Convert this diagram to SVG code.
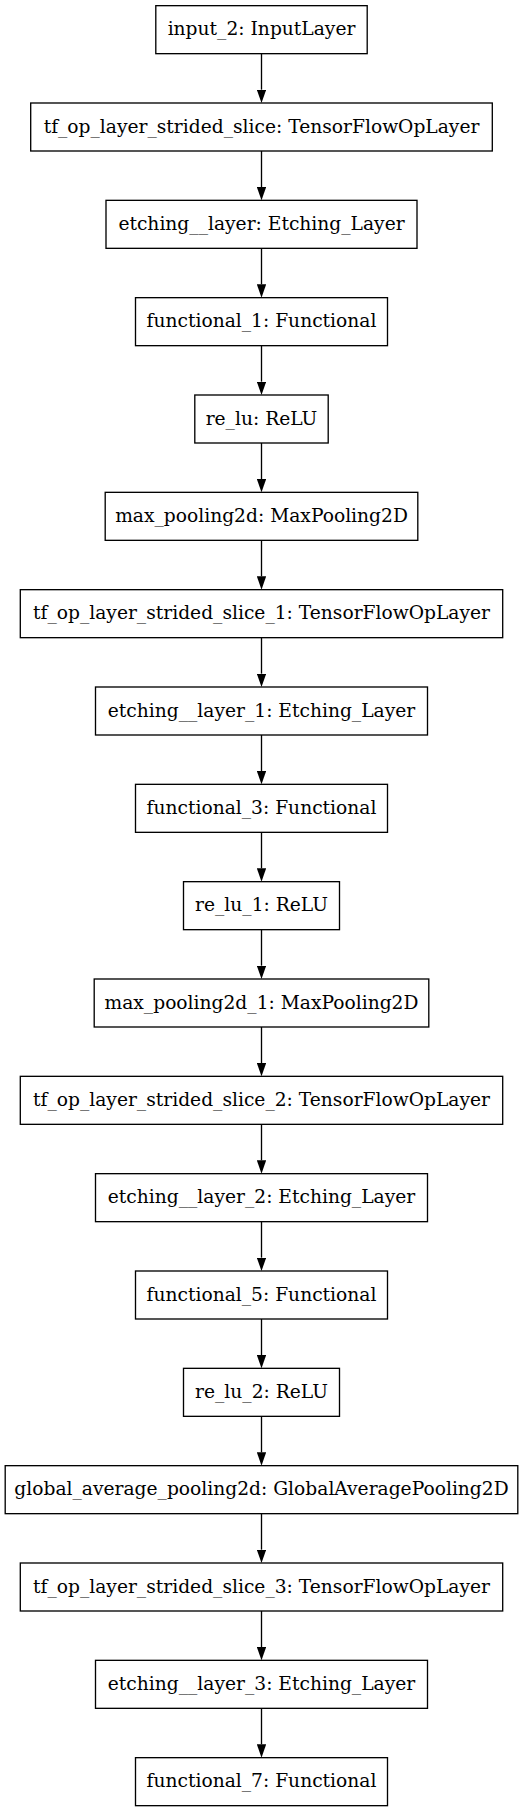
<svg xmlns="http://www.w3.org/2000/svg" width="529" height="1812" viewBox="0 0 529 1812">
<style>
.n rect{fill:#fff;stroke:#000;stroke-width:1.33}
.n text{font-family:"DejaVu Serif",serif;font-size:18.67px;text-anchor:middle;fill:#000}
.e line{stroke:#000;stroke-width:1.33}
</style>
<defs>
<marker id="ah" markerUnits="userSpaceOnUse" viewBox="0 0 13.33 9.33" refX="0" refY="4.67" markerWidth="13.33" markerHeight="9.33" orient="auto">
<path d="M0,0 L13.33,4.67 L0,9.33 z" fill="#000"/>
</marker>
</defs>
<rect width="529" height="1812" fill="#fff"/>
<g id="connectors" class="e">
<line x1="261.5" y1="53.67" x2="261.5" y2="89.67" marker-end="url(#ah)"/>
<line x1="261.5" y1="151" x2="261.5" y2="187" marker-end="url(#ah)"/>
<line x1="261.5" y1="248.33" x2="261.5" y2="284.33" marker-end="url(#ah)"/>
<line x1="261.5" y1="345.67" x2="261.5" y2="381.67" marker-end="url(#ah)"/>
<line x1="261.5" y1="443" x2="261.5" y2="479" marker-end="url(#ah)"/>
<line x1="261.5" y1="540.33" x2="261.5" y2="576.33" marker-end="url(#ah)"/>
<line x1="261.5" y1="637.67" x2="261.5" y2="673.67" marker-end="url(#ah)"/>
<line x1="261.5" y1="735" x2="261.5" y2="771" marker-end="url(#ah)"/>
<line x1="261.5" y1="832.33" x2="261.5" y2="868.33" marker-end="url(#ah)"/>
<line x1="261.5" y1="929.67" x2="261.5" y2="965.67" marker-end="url(#ah)"/>
<line x1="261.5" y1="1027" x2="261.5" y2="1063" marker-end="url(#ah)"/>
<line x1="261.5" y1="1124.33" x2="261.5" y2="1160.33" marker-end="url(#ah)"/>
<line x1="261.5" y1="1221.67" x2="261.5" y2="1257.67" marker-end="url(#ah)"/>
<line x1="261.5" y1="1319" x2="261.5" y2="1355" marker-end="url(#ah)"/>
<line x1="261.5" y1="1416.33" x2="261.5" y2="1452.33" marker-end="url(#ah)"/>
<line x1="261.5" y1="1513.67" x2="261.5" y2="1549.67" marker-end="url(#ah)"/>
<line x1="261.5" y1="1611" x2="261.5" y2="1647" marker-end="url(#ah)"/>
<line x1="261.5" y1="1708.33" x2="261.5" y2="1744.33" marker-end="url(#ah)"/>
</g>
<g id="input_2" class="n"><rect x="155.8" y="5.67" width="211.4" height="48"/><text x="261.5" y="35.27">input_2: InputLayer</text></g>
<g id="tf_op_layer_strided_slice" class="n"><rect x="30.7" y="103" width="461.6" height="48"/><text x="261.5" y="132.6">tf_op_layer_strided_slice: TensorFlowOpLayer</text></g>
<g id="etching__layer" class="n"><rect x="106" y="200.33" width="311" height="48"/><text x="261.5" y="229.93">etching__layer: Etching_Layer</text></g>
<g id="functional_1" class="n"><rect x="135.5" y="297.67" width="252" height="48"/><text x="261.5" y="327.27">functional_1: Functional</text></g>
<g id="re_lu" class="n"><rect x="194.8" y="395" width="133.4" height="48"/><text x="261.5" y="424.6">re_lu: ReLU</text></g>
<g id="max_pooling2d" class="n"><rect x="105.2" y="492.33" width="312.6" height="48"/><text x="261.5" y="521.93">max_pooling2d: MaxPooling2D</text></g>
<g id="tf_op_layer_strided_slice_1" class="n"><rect x="20.3" y="589.67" width="482.4" height="48"/><text x="261.5" y="619.27">tf_op_layer_strided_slice_1: TensorFlowOpLayer</text></g>
<g id="etching__layer_1" class="n"><rect x="95.5" y="687" width="332" height="48"/><text x="261.5" y="716.6">etching__layer_1: Etching_Layer</text></g>
<g id="functional_3" class="n"><rect x="135.5" y="784.33" width="252" height="48"/><text x="261.5" y="813.93">functional_3: Functional</text></g>
<g id="re_lu_1" class="n"><rect x="183.5" y="881.67" width="156" height="48"/><text x="261.5" y="911.27">re_lu_1: ReLU</text></g>
<g id="max_pooling2d_1" class="n"><rect x="94.2" y="979" width="334.6" height="48"/><text x="261.5" y="1008.6">max_pooling2d_1: MaxPooling2D</text></g>
<g id="tf_op_layer_strided_slice_2" class="n"><rect x="20.3" y="1076.33" width="482.4" height="48"/><text x="261.5" y="1105.93">tf_op_layer_strided_slice_2: TensorFlowOpLayer</text></g>
<g id="etching__layer_2" class="n"><rect x="95.5" y="1173.67" width="332" height="48"/><text x="261.5" y="1203.27">etching__layer_2: Etching_Layer</text></g>
<g id="functional_5" class="n"><rect x="135.5" y="1271" width="252" height="48"/><text x="261.5" y="1300.6">functional_5: Functional</text></g>
<g id="re_lu_2" class="n"><rect x="183.5" y="1368.33" width="156" height="48"/><text x="261.5" y="1397.93">re_lu_2: ReLU</text></g>
<g id="global_average_pooling2d" class="n"><rect x="5.2" y="1465.67" width="512.6" height="48"/><text x="261.5" y="1495.27">global_average_pooling2d: GlobalAveragePooling2D</text></g>
<g id="tf_op_layer_strided_slice_3" class="n"><rect x="20.3" y="1563" width="482.4" height="48"/><text x="261.5" y="1592.6">tf_op_layer_strided_slice_3: TensorFlowOpLayer</text></g>
<g id="etching__layer_3" class="n"><rect x="95.5" y="1660.33" width="332" height="48"/><text x="261.5" y="1689.93">etching__layer_3: Etching_Layer</text></g>
<g id="functional_7" class="n"><rect x="135.5" y="1757.67" width="252" height="48"/><text x="261.5" y="1787.27">functional_7: Functional</text></g>
</svg>
